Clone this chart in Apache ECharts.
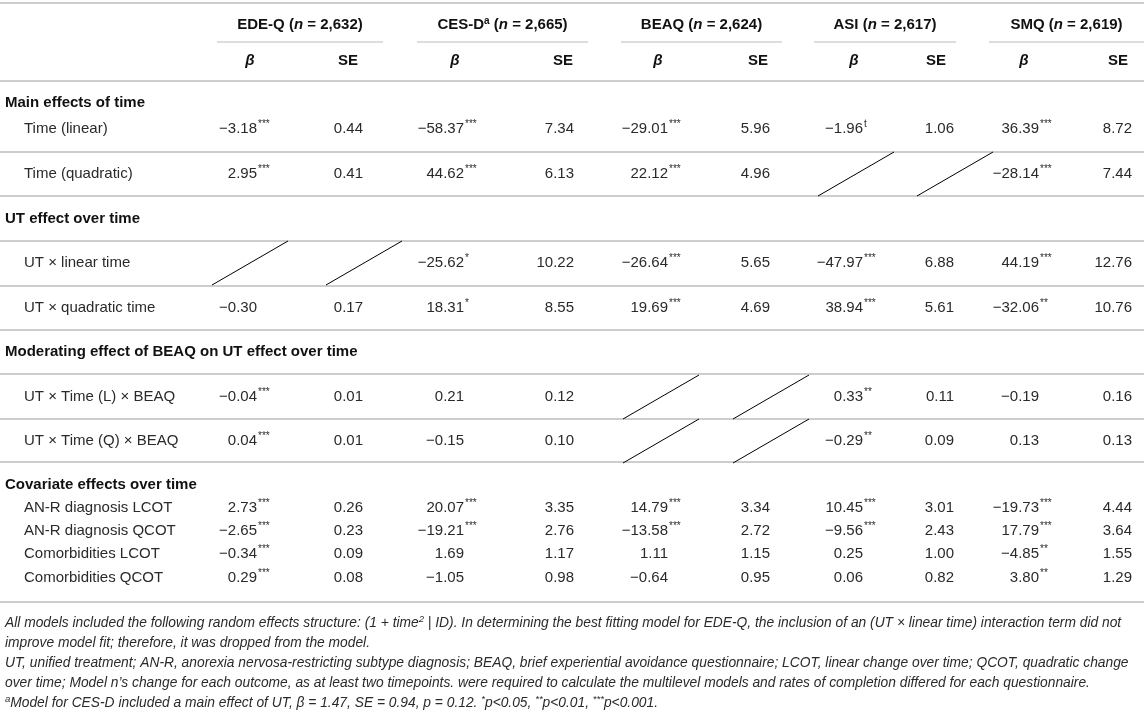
<!DOCTYPE html>
<html style="height: 100%">
<head>
<meta charset="utf-8">
<script type="text/javascript" src="https://cdn.jsdelivr.net/npm/echarts@6/dist/echarts.min.js"></script>
</head>
<body style="width:1144px;height:722px;margin:0;background:#fff">
<div id="container" style="width:1144px;height:722px;"></div>
<script type="text/javascript">
// ---- data ----
var measures = ['EDE-Q', 'CES-D', 'BEAQ', 'ASI', 'SMQ'];
var measureSup = ['', 'a', '', '', ''];
var measureN = ['2,632', '2,665', '2,624', '2,617', '2,619'];

var sections = ['Main effects of time', 'UT effect over time',
    'Moderating effect of BEAQ on UT effect over time', 'Covariate effects over time'];
var rowLabels = ['Time (linear)', 'Time (quadratic)', 'UT \u00d7 linear time', 'UT \u00d7 quadratic time',
    'UT \u00d7 Time (L) \u00d7 BEAQ', 'UT \u00d7 Time (Q) \u00d7 BEAQ',
    'AN-R diagnosis LCOT', 'AN-R diagnosis QCOT', 'Comorbidities LCOT', 'Comorbidities QCOT'];

// null = term not in the model (slashed cell)
var edeqBeta = [-3.18, 2.95, null, -0.30, -0.04, 0.04, 2.73, -2.65, -0.34, 0.29];
var edeqSig  = ['***', '***', '', '', '***', '***', '***', '***', '***', '***'];
var edeqSE   = [0.44, 0.41, null, 0.17, 0.01, 0.01, 0.26, 0.23, 0.09, 0.08];

var cesdBeta = [-58.37, 44.62, -25.62, 18.31, 0.21, -0.15, 20.07, -19.21, 1.69, -1.05];
var cesdSig  = ['***', '***', '*', '*', '', '', '***', '***', '', ''];
var cesdSE   = [7.34, 6.13, 10.22, 8.55, 0.12, 0.10, 3.35, 2.76, 1.17, 0.98];

var beaqBeta = [-29.01, 22.12, -26.64, 19.69, null, null, 14.79, -13.58, 1.11, -0.64];
var beaqSig  = ['***', '***', '***', '***', '', '', '***', '***', '', ''];
var beaqSE   = [5.96, 4.96, 5.65, 4.69, null, null, 3.34, 2.72, 1.15, 0.95];

var asiBeta = [-1.96, null, -47.97, 38.94, 0.33, -0.29, 10.45, -9.56, 0.25, 0.06];
var asiSig  = ['t', '', '***', '***', '**', '**', '***', '***', '', ''];
var asiSE   = [1.06, null, 6.88, 5.61, 0.11, 0.09, 3.01, 2.43, 1.00, 0.82];

var smqBeta = [36.39, -28.14, 44.19, -32.06, -0.19, 0.13, -19.73, 17.79, -4.85, 3.80];
var smqSig  = ['***', '***', '***', '**', '', '', '***', '***', '**', '**'];
var smqSE   = [8.72, 7.44, 12.76, 10.76, 0.16, 0.13, 4.44, 3.64, 1.55, 1.29];

var footnotes = [
    'All models included the following random effects structure: (1 + time{sup|2} | ID). In determining the best fitting model for EDE-Q, the inclusion of an (UT \u00d7 linear time) interaction term did not',
    'improve model fit; therefore, it was dropped from the model.',
    'UT, unified treatment; AN-R, anorexia nervosa-restricting subtype diagnosis; BEAQ, brief experiential avoidance questionnaire; LCOT, linear change over time; QCOT, quadratic change',
    'over time; Model n\u2019s change for each outcome, as at least two timepoints. were required to calculate the multilevel models and rates of completion differed for each questionnaire.',
    '{sup|a}Model for CES-D included a main effect of UT, \u03b2 = 1.47, SE = 0.94, p = 0.12. {sup|*}p<0.05, {sup|**}p<0.01, {sup|***}p<0.001.'
];

var betas = [edeqBeta, cesdBeta, beaqBeta, asiBeta, smqBeta];
var sigs = [edeqSig, cesdSig, beaqSig, asiSig, smqSig];
var ses = [edeqSE, cesdSE, beaqSE, asiSE, smqSE];

// ---- layout (table units = px) ----
var W = 1144, H = 722;
var betaRight = [257, 464, 668, 863, 1039];
var seRight = [363, 574, 770, 954, 1132];
var betaHead = [250, 455, 658, 854, 1024];
var seHead = [348, 563, 758, 936, 1118];
var groupLine = [[217, 383], [417, 588], [621, 782], [814, 956], [989, 1144]];
var groupY = 25, groupLineY = 42, subHeadY = 61;
var sectionY = [103, 219, 352, 485];
var rowY = [129, 174, 263, 308, 397, 441, 508, 531, 554, 578];
var ruleY = [3, 81, 152, 196, 241, 286, 330, 374, 419, 462, 602];
var footY = [623, 643, 663, 683, 703];
var labelX = 24, sectionX = 5, footX = 5;

var FONT = '"Liberation Sans", Arial, sans-serif';
var INK = '#2a2a2a';
var RULE = '#bcbcbc';

function fmt(v) {
    return (v < 0 ? '\u2212' : '') + Math.abs(v).toFixed(2);
}

function txt(api, x, y, text, opt) {
    var p = api.coord([x, y]);
    opt = opt || {};
    return {
        type: 'text',
        style: {
            x: p[0] + (opt.dx || 0), y: p[1] + (opt.dy || 0),
            text: text,
            fill: opt.fill || INK,
            font: opt.font || ('15px ' + FONT),
            align: opt.align || 'left',
            verticalAlign: 'middle',
            rich: opt.rich
        }
    };
}

var dom = document.getElementById('container');
var myChart = echarts.init(dom);

// cells: [measure, row, isSE]
var cellData = [];
for (var m = 0; m < measures.length; m++) {
    for (var r = 0; r < rowLabels.length; r++) {
        cellData.push([m, r, 0]);
        cellData.push([m, r, 1]);
    }
}

var option = {
    animation: false,
    grid: { left: 0, right: 0, top: 0, bottom: 0 },
    xAxis: { type: 'value', min: 0, max: W, show: false },
    yAxis: { type: 'value', min: 0, max: H, inverse: true, show: false },
    series: [
        {   // horizontal rules
            type: 'custom', silent: true,
            data: ruleY.map(function (y) { return [0, y]; }),
            renderItem: function (params, api) {
                var a = api.coord([0, api.value(1)]), b = api.coord([W, api.value(1)]);
                return { type: 'line', shape: { x1: a[0], y1: a[1], x2: b[0], y2: b[1] },
                    style: { stroke: RULE, lineWidth: 1.5 } };
            }
        },
        {   // column group headers
            type: 'custom', silent: true,
            data: measures.map(function (d, i) { return [i, groupY]; }),
            renderItem: function (params, api) {
                var i = api.value(0);
                var g = groupLine[i];
                var a = api.coord([g[0], groupLineY]), b = api.coord([g[1], groupLineY]);
                var head = '{b|' + measures[i] + '}' + (measureSup[i] ? '{sup|' + measureSup[i] + '}' : '') +
                    '{b| (}{bi|n}{b| = ' + measureN[i] + ')}';
                var rich = {
                    b: { font: 'bold 15px ' + FONT, fill: '#111', lineHeight: 18 },
                    bi: { font: 'italic bold 15px ' + FONT, fill: '#111', lineHeight: 18 },
                    sup: { font: 'bold 10px ' + FONT, fill: '#111', lineHeight: 18, verticalAlign: 'top' }
                };
                return { type: 'group', children: [
                    txt(api, (g[0] + g[1]) / 2, groupY, head, { align: 'center', rich: rich }),
                    { type: 'line', shape: { x1: a[0], y1: a[1], x2: b[0], y2: b[1] },
                      style: { stroke: RULE, lineWidth: 1.2 } },
                    txt(api, betaHead[i], subHeadY, '\u03b2', { align: 'center', font: 'italic bold 15px ' + FONT, fill: '#111' }),
                    txt(api, seHead[i], subHeadY, 'SE', { align: 'center', font: 'bold 15px ' + FONT, fill: '#111' })
                ] };
            }
        },
        {   // section headers
            type: 'custom', silent: true,
            data: sections.map(function (d, i) { return [sectionX, sectionY[i], i]; }),
            renderItem: function (params, api) {
                return txt(api, api.value(0), api.value(1), sections[api.value(2)],
                    { font: 'bold 15px ' + FONT, fill: '#111' });
            }
        },
        {   // row labels
            type: 'custom', silent: true,
            data: rowLabels.map(function (d, i) { return [labelX, rowY[i], i]; }),
            renderItem: function (params, api) {
                return txt(api, api.value(0), api.value(1), rowLabels[api.value(2)]);
            }
        },
        {   // value cells, slashed when the term is absent
            type: 'custom', silent: true,
            data: cellData,
            renderItem: function (params, api) {
                var m = api.value(0), r = api.value(1), isSE = api.value(2);
                var v = isSE ? ses[m][r] : betas[m][r];
                var right = isSE ? seRight[m] : betaRight[m];
                var y = rowY[r];
                if (v === null) {
                    var x0 = isSE ? right - 37 : right - 45;
                    var a = api.coord([x0, y + 22]), b = api.coord([x0 + 76, y - 22]);
                    return { type: 'line', shape: { x1: a[0], y1: a[1], x2: b[0], y2: b[1] },
                        style: { stroke: '#000', lineWidth: 1 } };
                }
                var kids = [txt(api, right, y, fmt(v), { align: 'right' })];
                if (!isSE && sigs[m][r]) {
                    kids.push(txt(api, right + 1, y, sigs[m][r],
                        { dy: -5, font: '10px ' + FONT }));
                }
                return { type: 'group', children: kids };
            }
        },
        {   // footnotes
            type: 'custom', silent: true,
            data: footnotes.map(function (d, i) { return [footX, footY[i], i]; }),
            renderItem: function (params, api) {
                return txt(api, api.value(0), api.value(1), '{t|' + footnotes[api.value(2)].replace(/\{sup\|([^}]*)\}/g, '}{sup|$1}{t|') + '}', {
                    rich: {
                        t: { font: 'italic 13.8px ' + FONT, fill: INK, lineHeight: 18 },
                        sup: { font: 'italic 9.5px ' + FONT, fill: INK, lineHeight: 18, verticalAlign: 'top' }
                    }
                });
            }
        }
    ]
};
myChart.setOption(option);
</script>
</body>
</html>
